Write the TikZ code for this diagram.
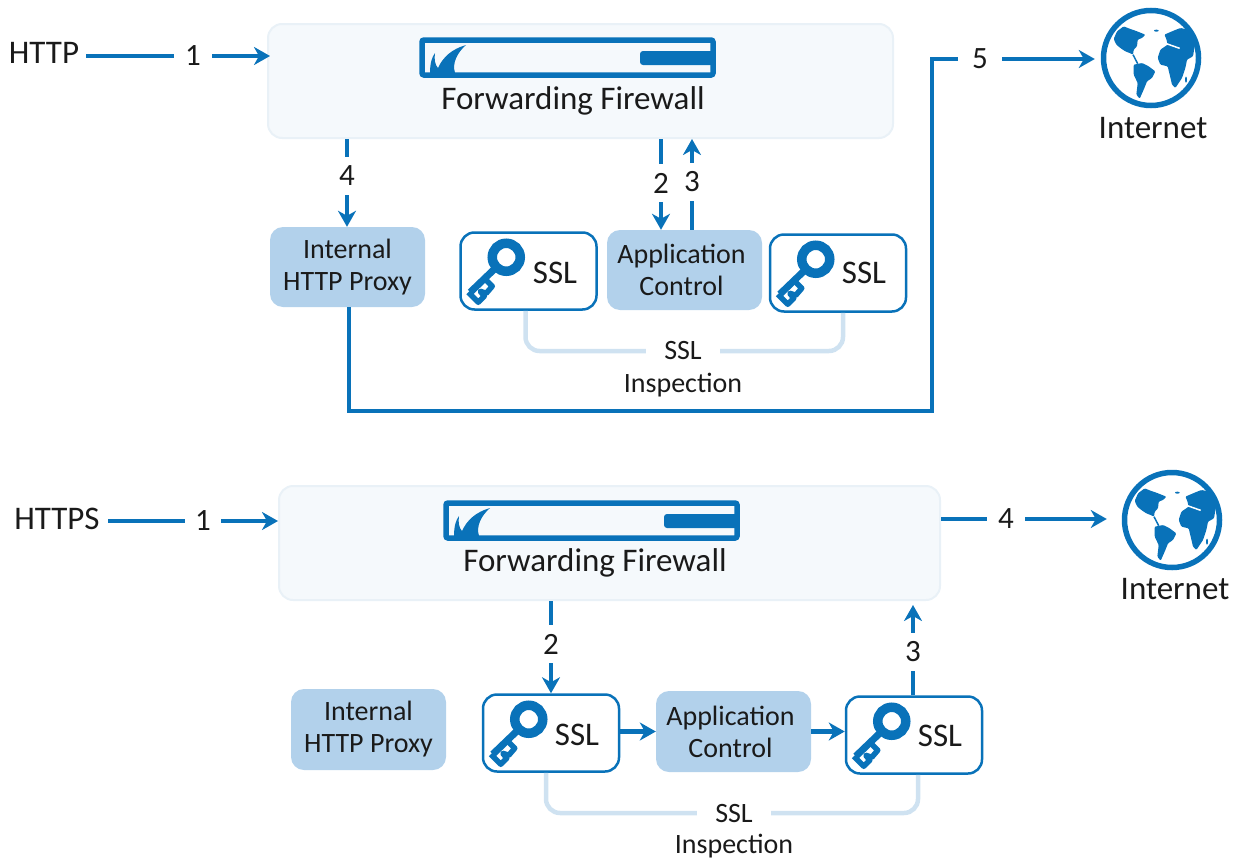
\documentclass[tikz,border=0pt]{standalone}
\usepackage{fontspec}
\setmainfont{Carlito}
\usetikzlibrary{arrows.meta}
\definecolor{bl}{HTML}{0972B9}
\definecolor{lb}{HTML}{B2D1EB}
\definecolor{pale}{HTML}{F5F9FC}
\definecolor{paleb}{HTML}{E9F1F7}
\definecolor{brk}{HTML}{CFE2F1}
\definecolor{tx}{HTML}{1A1A1A}
\newcommand{\apptext}{Application\hspace*{6pt}\\Control\hspace*{6pt}}
\tikzset{
  x=1pt,y=-1pt,
  every node/.style={text=tx,inner sep=0pt,font=\fontsize{33}{37}\selectfont},
  conn/.style={draw=bl,line width=4.5pt},
  arr/.style={conn,-{Stealth[length=16pt,width=18pt,inset=5pt]}},
  fwbox/.style={draw=paleb,line width=2pt,fill=pale,rounded corners=14pt},
  graybox/.style={fill=lb,rounded corners=13pt,minimum width=155pt,align=center,font=\fontsize{28}{32}\selectfont},
  sslbox/.style={draw=bl,line width=2.5pt,fill=white,rounded corners=14pt,minimum width=136pt,minimum height=77pt},
  numlab/.style={minimum width=38pt,minimum height=38pt,font=\fontsize{31}{35}\selectfont},
  brackets/.style={draw=brk,line width=4.5pt,rounded corners=14pt},
  smalltxt/.style={font=\fontsize{28}{32}\selectfont},
  keyicon/.pic={
    \draw[bl,line width=9.5pt] (47,26) circle (14);
    \draw[bl,line width=7pt] (36,37) -- (11,61);
    \draw[bl,line width=5.5pt,line join=round] (9,61) -- (19,71) -- (25,65) -- (21,60) -- (27,62) -- (33,55) -- (26,48);
  },
  fwicon/.pic={
    \draw[bl,line width=5.5pt,rounded corners=2pt] (3,3) rectangle (294,38);
    \fill[bl,rounded corners=3pt] (221,14) rectangle (296,28);
    \fill[bl] (11,36) .. controls (11,26) and (13,20) .. (16,16) .. controls (15,22) and (16,28) .. (19,31)
      .. controls (24,20) and (33,12) .. (47,8) .. controls (38,16) and (33,26) .. (36,36) -- cycle;
  },
  globeicon/.pic={
    \draw[bl,line width=5.5pt] (0,0) circle (47.5);
    \begin{scope}[scale=1/3,shift={(-212,-175)}]
    \fill[bl,rounded corners=1pt] (100,118) -- (110,95) -- (130,80) -- (150,88) -- (165,93) -- (195,105) -- (185,115) -- (172,120) -- (170,140) -- (160,150) -- (158,165) -- (148,160) -- (135,155) -- (120,145) -- (108,135) -- cycle;
    \fill[bl,rounded corners=1pt] (160,195) -- (185,190) -- (205,200) -- (225,215) -- (215,235) -- (200,245) -- (190,270) -- (178,297) -- (168,285) -- (172,250) -- (160,225) -- cycle;
    \fill[bl,rounded corners=1pt] (232,175) -- (240,150) -- (262,135) -- (258,118) -- (252,105) -- (275,95) -- (300,85) -- (325,90) -- (340,110) -- (343,140) -- (338,170) -- (320,180) -- (315,205) -- (305,235) -- (285,265) -- (275,255) -- (268,225) -- (262,200) -- (240,195) -- cycle;
    \draw[white,line width=1.5pt] (258,132) -- (298,146);
    \fill[bl] (228,93) ellipse (7 and 3);
    \fill[bl] (317,240) ellipse (3 and 9);
    \draw[bl,line width=1.5pt] (158,165) -- (172,192);
    \end{scope}
  }
}
\begin{document}
\begin{tikzpicture}
\useasboundingbox (0,0) rectangle (1236,862);
% ---------- top
\node[fwbox,minimum width=625pt,minimum height=114pt] (fa) at (580.5,81) {};
\pic at (fa.north west) [shift={(152,14)}] {fwicon};
\node (fat) at (573,101) {Forwarding Firewall};
\node (http) at (44,53) {HTTP};
\node[numlab] (a1) at (193,56) {1};
\coordinate (a1t) at (86,56);
\draw[conn] (a1t) -- (a1);
\draw[arr,shorten >=-3pt] (a1) -- (a1 -| fa.west);
\node[graybox,minimum height=80pt] (apx) at (347.5,267) {Internal\\HTTP Proxy};
\node[graybox,minimum height=80pt] (aac) at (684.5,270) {\apptext};
\node[sslbox] (as1) at (528.5,271) {};
\node[sslbox] (as2) at (838,273) {};
\pic at (as1.north west) {keyicon};
\pic at (as2.north west) {keyicon};
\node (as1t) at (555,273) {SSL};
\node (as2t) at (864,273) {SSL};
% 4
\node[numlab] (a4) at (347,176) {4};
\draw[conn] (a4 |- fa.south) -- (a4);
\draw[arr] (a4) -- (a4 |- apx.north);
% 2
\node[numlab] (a2) at (661,183) {2};
\draw[conn] (a2 |- fa.south) -- (a2);
\draw[arr] (a2) -- (a2 |- aac.north);
% 3
\node[numlab] (a3) at (692,182) {3};
\draw[conn] (a3 |- aac.north) -- (a3);
\draw[arr] (a3) -- (a3 |- fa.south);
% bracket
\node[smalltxt,minimum width=74pt] (asl) at (683,351) {SSL};
\node[smalltxt] (ain) at (683,385) {Inspection};
\draw[brackets] ([xshift=-3pt]as1.south) |- (asl.west);
\draw[brackets] (asl.east) -| ([xshift=5pt]as2.south);
% long line
\node[minimum size=100pt] (ag) at (1151,58) {};
\pic at (ag) {globeicon};
\node (ait) at (1153,128) {Internet};
\node[numlab,minimum width=44pt] (a5) at (980,59) {5};
\coordinate (alow) at (932,411);
\draw[conn,line join=miter] ([xshift=1.5pt]apx.south) |- (alow) |- (a5);
\draw[arr,shorten >=6pt] (a5) -- (a5 -| ag.west);
% ---------- bottom
\node[fwbox,minimum width=661pt,minimum height=114pt] (fb) at (609.5,543) {};
\pic at (fb.north west) [shift={(165,15)}] {fwicon};
\node (fbt) at (595,563) {Forwarding Firewall};
\node (https) at (57,519) {HTTPS};
\node[numlab,minimum width=36pt] (b1) at (203,521) {1};
\coordinate (b1t) at (108,521);
\draw[conn] (b1t) -- (b1);
\draw[arr] (b1) -- (b1 -| fb.west);
\node[numlab] (b4) at (1006,519) {4};
\node[minimum size=100pt] (bg) at (1172,520) {};
\pic at (bg) {globeicon};
\node (bit) at (1175,589) {Internet};
\draw[conn] (b4 -| fb.east) -- (b4);
\draw[arr,shorten >=15pt] (b4) -- (b4 -| bg.west);
\node[graybox,minimum height=81pt] (bpx) at (368.5,729.5) {Internal\\HTTP Proxy};
\node[graybox,minimum height=81pt,text depth=0pt] (bac) at (733.5,731.5) {\apptext};
\node[sslbox] (bs1) at (551,733) {};
\node[sslbox] (bs2) at (914,735) {};
\pic at (bs1.north west) {keyicon};
\pic at (bs2.north west) {keyicon};
\node (bs1t) at (577,735) {SSL};
\node (bs2t) at (940,736) {SSL};
\node[numlab] (b2) at (551,644) {2};
\draw[conn] (b2 |- fb.south) -- (b2);
\draw[arr] (b2) -- (bs1.north);
\node[numlab] (b3) at (913,652) {3};
\draw[conn] (b3 |- bs2.north) -- (b3);
\coordinate (b3t) at (913,605);
\draw[arr] (b3) -- (b3t);
\draw[arr] (bs1.east |- bac.west) -- (bac.west);
\draw[arr] (bac.east) -- (bac.east -| bs2.west);
\node[smalltxt,minimum width=74pt] (bsl) at (734,813) {SSL};
\node[smalltxt] (bin) at (734,846) {Inspection};
\draw[brackets] ([xshift=-5pt]bs1.south) |- (bsl.west);
\draw[brackets] (bsl.east) -| ([xshift=4pt]bs2.south);
\end{tikzpicture}
\end{document}
